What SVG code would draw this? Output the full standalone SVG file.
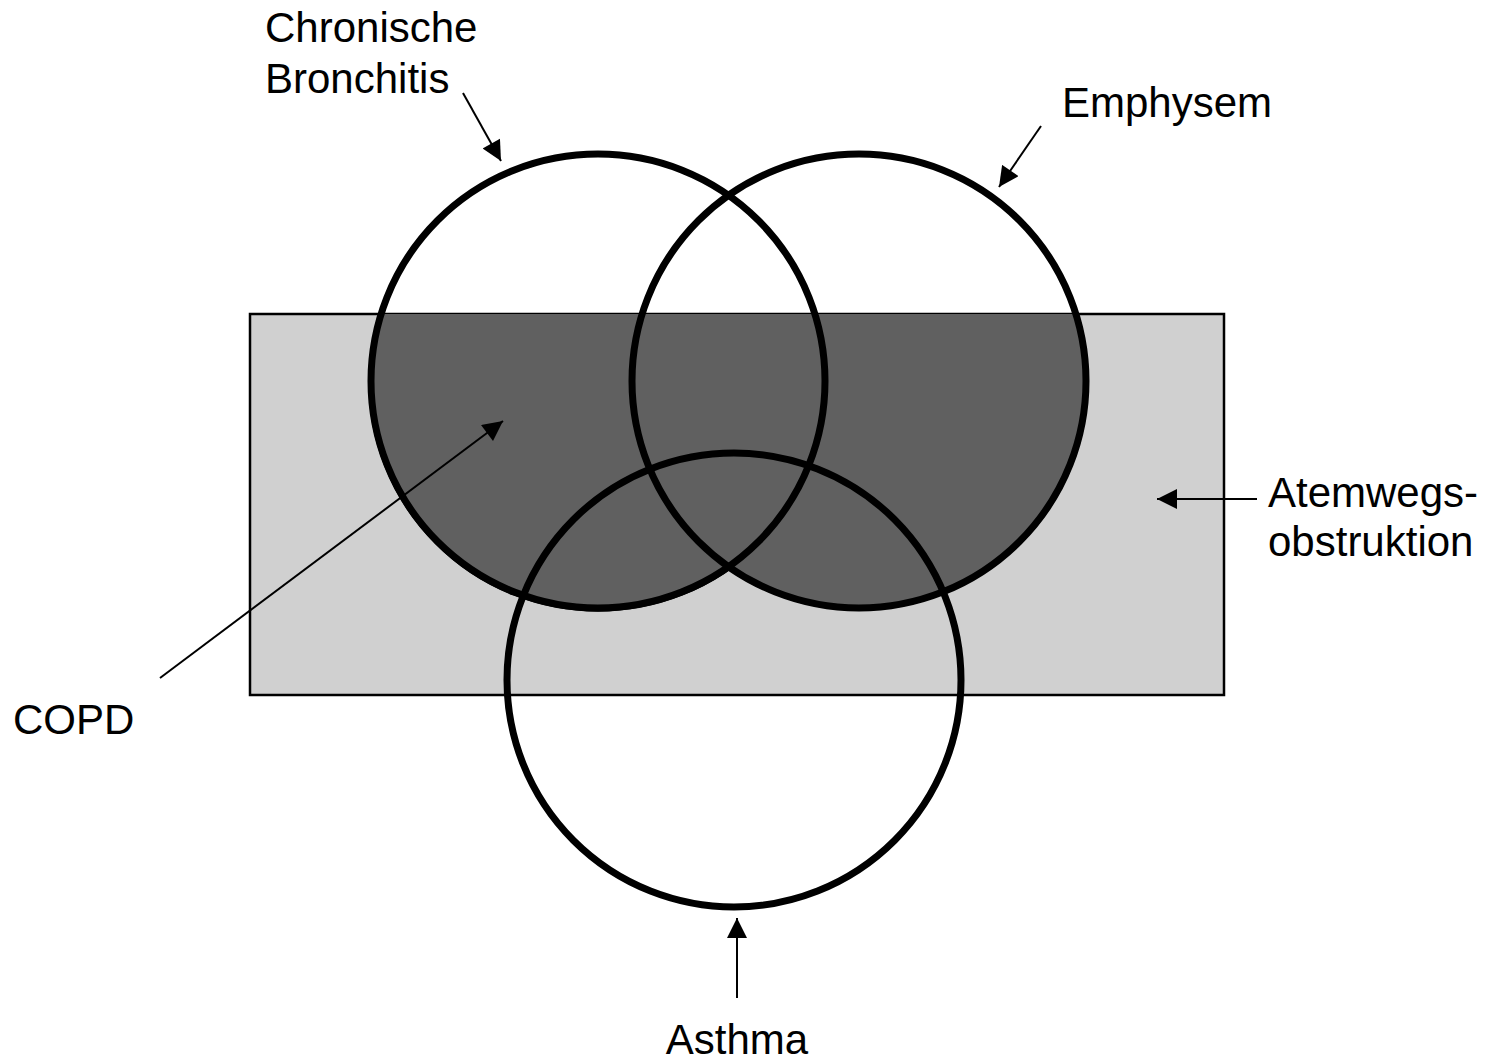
<svg xmlns="http://www.w3.org/2000/svg" width="1487" height="1063" viewBox="0 0 1487 1063">
<style>
.lbl{font-family:"Liberation Sans",Arial,sans-serif;font-size:42px;fill:#000}
.ring{fill:none;stroke:#000;stroke-width:7}
.arr{stroke:#000;stroke-width:2;fill:none;marker-end:url(#ah)}
</style>
<defs>
<marker id="ah" viewBox="0 0 10 10" refX="10" refY="5" markerWidth="21" markerHeight="20" markerUnits="userSpaceOnUse" orient="auto">
<path d="M0,0 L10,5 L0,10 z" fill="#000"/>
</marker>
<clipPath id="rc"><rect x="250" y="314" width="974" height="381"/></clipPath>
</defs>
<rect width="1487" height="1063" fill="#fff"/>
<g id="atemwegsobstruktion">
<rect x="250" y="314" width="974" height="381" fill="#d0d0d0" stroke="#000" stroke-width="2.5"/>
</g>
<g id="copd" clip-path="url(#rc)">
<circle cx="598" cy="382" r="229" fill="#606060" stroke="#000" stroke-width="1.5"/>
<circle cx="859" cy="381" r="229" fill="#606060" stroke="#000" stroke-width="1.5"/>
<circle cx="598" cy="382" r="227" fill="#606060"/>
</g>
<g id="chronische-bronchitis"><circle class="ring" cx="598" cy="381" r="227"/></g>
<g id="emphysem"><circle class="ring" cx="859" cy="381" r="227"/></g>
<g id="asthma"><circle class="ring" cx="734" cy="680" r="227"/></g>
<g id="connectors">
<line class="arr" x1="463" y1="93" x2="501" y2="161"/>
<line class="arr" x1="1041" y1="126" x2="999" y2="187"/>
<line class="arr" x1="1257" y1="499" x2="1157" y2="499"/>
<line class="arr" x1="737" y1="998" x2="737" y2="918"/>
<line class="arr" x1="160" y1="678" x2="503" y2="421"/>
</g>
<g id="labels">
<text class="lbl" x="265" y="42">Chronische</text>
<text class="lbl" x="265" y="93">Bronchitis</text>
<text class="lbl" x="1062" y="117">Emphysem</text>
<text class="lbl" x="1268" y="507">Atemwegs-</text>
<text class="lbl" x="1268" y="556">obstruktion</text>
<text class="lbl" x="737" y="1054" text-anchor="middle">Asthma</text>
<text class="lbl" x="13" y="734">COPD</text>
</g>
</svg>
